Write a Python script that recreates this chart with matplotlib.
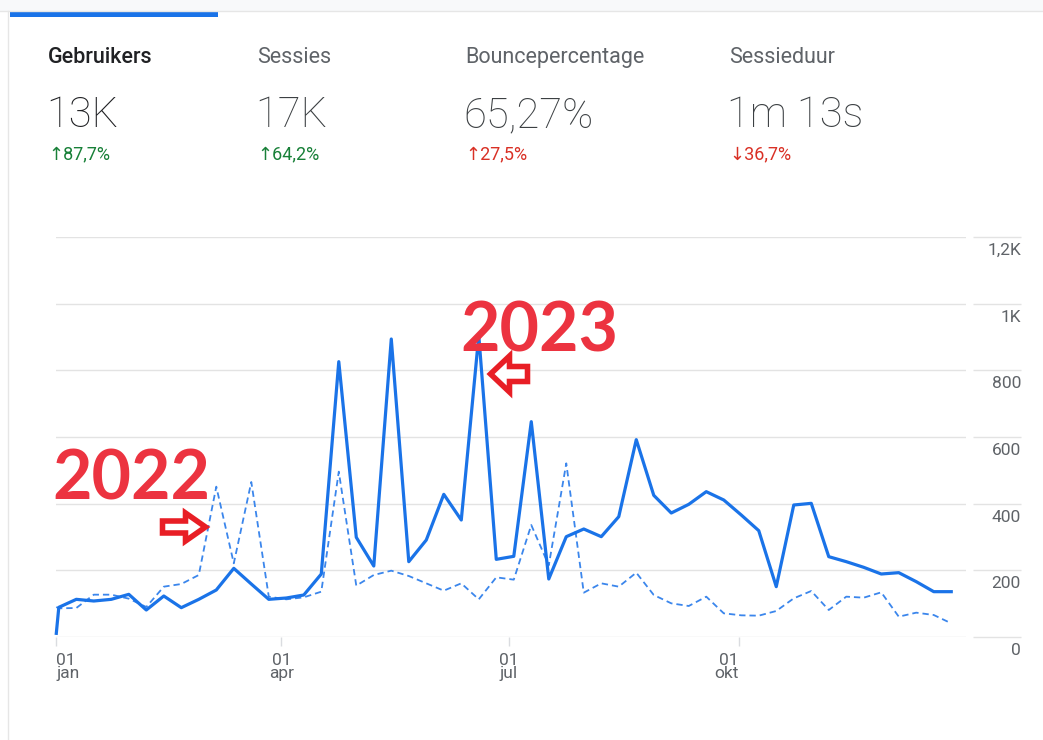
import numpy as np
import pandas as pd
import matplotlib
matplotlib.use('Agg')
import matplotlib.pyplot as plt
import matplotlib.dates as mdates
from matplotlib import transforms
from matplotlib.patches import FancyArrow, Rectangle
from matplotlib.lines import Line2D

# weekly users (first point is the single day 1 jan, then weeks starting monday)
dates = [pd.Timestamp('2023-01-01')] + list(pd.date_range('2023-01-02', '2023-12-25', freq='W-MON'))

users_2023 = [11, 89, 113, 108, 113, 128, 81, 123, 88, 113, 141, 206, 159, 113,
              117, 126, 189, 826, 299, 213, 894, 226, 291, 428, 351, 905, 233,
              242, 646, 174, 301, 324, 301, 361, 592, 425, 372, 398, 436, 411,
              366, 319, 151, 396, 401, 241, 226, 209, 189, 193, 166, 136, 136]

users_2022 = [90, 86, 87, 127, 127, 115, 90, 151, 159, 186, 451, 221, 465, 121,
              113, 119, 136, 496, 154, 186, 199, 183, 161, 139, 161, 113, 179,
              172, 336, 215, 521, 133, 161, 151, 193, 126, 101, 93, 121, 71,
              65, 64, 78, 116, 138, 81, 121, 118, 134, 61, 73, 66, 41]

ytick_vals = [0, 200, 400, 600, 800, 1000, 1200]
ytick_labels = ['0', '200', '400', '600', '800', '1K', '1,2K']

xtick_dates = ['2023-01-01', '2023-04-01', '2023-07-01', '2023-10-01']
xtick_labels = ['01\njan', '01\napr', '01\njul', '01\nokt']

metric_names = ['Gebruikers', 'Sessies', 'Bouncepercentage', 'Sessieduur']
metric_values = ['13K', '17K', '65,27%', '1m 13s']
metric_changes = ['\u219187,7%', '\u219164,2%', '\u219127,5%', '\u219336,7%']
change_colors = ['#188038', '#188038', '#d93025', '#d93025']

W, H = 1043, 740
FONT = ['Roboto', 'DejaVu Sans']
BLUE = '#1a73e8'
GRID = '#e3e3e3'
LABEL = '#5f6368'


def fx(px):
    return px / W


def fy(py):
    return 1 - py / H


fig = plt.figure(figsize=(W / 100, H / 100), dpi=100)
fig.patch.set_facecolor('white')

# page chrome: grey strip, card border and active tab bar
fig.add_artist(Rectangle((0, fy(11)), 1, 11 / H, transform=fig.transFigure,
                         color='#f8f9fa', lw=0))
fig.add_artist(Line2D([0, 1], [fy(11), fy(11)], color='#e6e6e6', lw=1))
fig.add_artist(Line2D([fx(8), fx(8)], [0, fy(11)], color='#e6e6e6', lw=1))
fig.add_artist(Rectangle((fx(10), fy(17)), fx(218) - fx(10), 6 / H,
                         transform=fig.transFigure, color=BLUE, lw=0))

# metric header
col_x = [48, 257, 465, 729]
for i, name in enumerate(metric_names):
    first = i == 0
    fig.text(fx(col_x[i]), fy(63), name, family=FONT, fontsize=15.5,
             color='#202124' if first else LABEL,
             fontweight='medium' if first else 'normal', va='baseline')
    fig.text(fx(col_x[i] - 2), fy(127), metric_values[i], family=FONT,
             fontsize=30, fontweight='light',
             color='#202124' if first else '#3c4043', va='baseline')
    fig.text(fx(col_x[i]), fy(159), metric_changes[i], family=FONT,
             fontsize=13, color=change_colors[i], va='baseline')

# chart
ax = fig.add_axes([fx(56.3), fy(637), (966 - 56.3) / W, 400 / H])
ax.plot(dates, users_2022, color='#3b86ec', lw=1.3, ls=(0, (3.5, 2.2)),
        clip_on=False, zorder=2)
ax.plot(dates, users_2023, color=BLUE, lw=2.3, clip_on=False, zorder=3)

x0 = mdates.date2num(pd.Timestamp('2023-01-01'))
ax.set_xlim(x0, x0 + 363.9)
ax.set_ylim(0, 1200)
ax.set_yticks(ytick_vals)
ax.yaxis.set_ticklabels([])
ax.tick_params(axis='y', length=0)
ax.grid(axis='y', color=GRID, lw=1)
ax.set_axisbelow(True)
for s in ax.spines.values():
    s.set_visible(False)

ax.set_xticks([pd.Timestamp(d) for d in xtick_dates])
ax.set_xticklabels(xtick_labels, family=FONT, fontsize=12.5, color=LABEL,
                   linespacing=0.85)
for lbl, ha in zip(ax.get_xticklabels(), ['left', 'center', 'center', 'right']):
    lbl.set_ha(ha)
ax.tick_params(axis='x', length=6.5, width=1, color='#dadce0', pad=5)

# right-hand value labels, under their grid lines
blend = transforms.blended_transform_factory(ax.transAxes, ax.transData)
ax.hlines(ytick_vals, (973 - 56.3) / 909.7, (1021 - 56.3) / 909.7,
          transform=blend, colors=GRID, lw=1, clip_on=False)
shift = transforms.ScaledTranslation(0, -18 / 100, fig.dpi_scale_trans)
for v, lab in zip(ytick_vals, ytick_labels):
    ax.text((1021 - 56.3) / 909.7, v, lab, transform=blend + shift,
            family=FONT, fontsize=12.5, color=LABEL, ha='right', va='baseline')

# red hand-drawn style annotations
RED = '#ec3340'
fig.text(fx(52), fy(500), '2022', family=['Lato', 'DejaVu Sans'],
         fontsize=49, fontweight='bold', color=RED, va='baseline')
fig.text(fx(460), fy(352), '2023', family=['Lato', 'DejaVu Sans'],
         fontsize=49, fontweight='bold', color=RED, va='baseline')

ident = transforms.IdentityTransform()
fig.add_artist(FancyArrow(162.5, H - 527, 43, 0, width=12, head_width=28,
                          head_length=20, length_includes_head=True,
                          transform=ident, facecolor='white',
                          edgecolor='#e81e25', lw=4, joinstyle='miter'))
fig.add_artist(FancyArrow(527.5, H - 374, -37, 0, width=15, head_width=36,
                          head_length=19, length_includes_head=True,
                          transform=ident, facecolor='white',
                          edgecolor='#e81e25', lw=4, joinstyle='miter'))

fig.savefig('out.png', dpi=100)
